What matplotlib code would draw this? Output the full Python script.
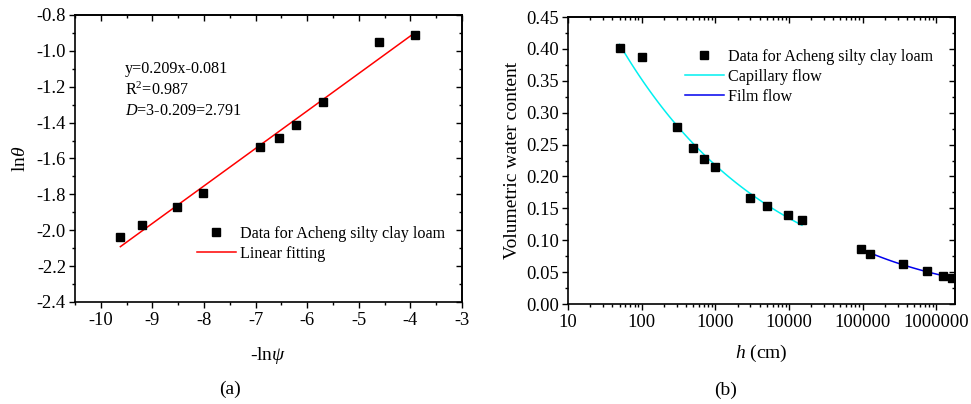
import numpy as np
import matplotlib
matplotlib.use("Agg")
import matplotlib.pyplot as plt
from matplotlib.ticker import MultipleLocator, LogLocator, NullFormatter, FixedLocator, FixedFormatter

plt.rcParams['font.family'] = ['Liberation Serif', 'DejaVu Serif']
plt.rcParams['mathtext.fontset'] = 'custom'
plt.rcParams['mathtext.rm'] = 'Liberation Serif'
plt.rcParams['mathtext.it'] = 'Liberation Serif:italic'
plt.rcParams['axes.unicode_minus'] = False

# panel (a): -ln(psi) vs ln(theta)
neg_ln_psi = [-9.62, -9.21, -8.52, -8.01, -6.91, -6.55, -6.21, -5.70, -4.61, -3.91]
ln_theta = [-2.036, -1.973, -1.871, -1.795, -1.537, -1.483, -1.411, -1.284, -0.949, -0.911]
slope, intercept = 0.209, -0.081

# panel (b): suction head vs volumetric water content
h_cap = [50, 100, 300, 500, 700, 1000, 3000, 5000, 9800, 15000]
theta_cap = [0.402, 0.387, 0.277, 0.244, 0.227, 0.215, 0.166, 0.154, 0.139, 0.131]
h_film = [95000, 127000, 355000, 740000, 1230000, 1660000]
theta_film = [0.086, 0.079, 0.063, 0.051, 0.044, 0.041]

fs_tick = 13.3
fs_lab = 14
fs_leg = 11.6

fig = plt.figure(figsize=(9.71, 4.04), dpi=100)
ax1 = fig.add_axes([0.0772, 0.2525, 0.3986, 0.7104])
ax2 = fig.add_axes([0.585, 0.2475, 0.3986, 0.7104])

# ---- (a)
ax1.plot(neg_ln_psi, ln_theta, 's', color='black', ms=5.3, label='Data for Acheng silty clay loam', zorder=3)
xf = np.linspace(min(neg_ln_psi), max(neg_ln_psi), 50)
ax1.plot(xf, slope * xf + intercept, color='#ff0000', lw=1.1, label='Linear fitting')
ax1.set_xlim(-10.5, -3)
ax1.set_ylim(-2.4, -0.8)
ax1.xaxis.set_major_locator(MultipleLocator(1))
ax1.xaxis.set_minor_locator(MultipleLocator(0.5))
ax1.yaxis.set_major_locator(MultipleLocator(0.2))
ax1.yaxis.set_minor_locator(MultipleLocator(0.1))
ax1.yaxis.set_major_formatter(plt.FuncFormatter(lambda v, p: f"{v:.1f}"))
ax1.set_xlabel(r'-ln$\psi$', fontsize=fs_lab, labelpad=11)
ax1.set_ylabel(r'ln$\theta$', fontsize=fs_lab, labelpad=5)
ax1.text(0.129, 0.812, 'y=0.209x-0.081', transform=ax1.transAxes, fontsize=fs_leg, va='center')
ax1.text(0.129, 0.739, r'R$^2$=0.987', transform=ax1.transAxes, fontsize=fs_leg, va='center')
ax1.text(0.129, 0.666, r'$D$=3-0.209=2.791', transform=ax1.transAxes, fontsize=fs_leg, va='center')
ax1.legend(loc='upper left', bbox_to_anchor=(0.315, 0.265), frameon=False, fontsize=fs_leg,
           handlelength=2.4, handletextpad=0.3, borderpad=0, borderaxespad=0, labelspacing=0.25)
ax1.text(0.40, -0.305, '(a)', transform=ax1.transAxes, ha='center', va='center', fontsize=fs_lab)

# ---- (b)
h_all = h_cap + h_film
theta_all = theta_cap + theta_film
ax2.plot(h_all, theta_all, 's', color='black', ms=5.3, label='Data for Acheng silty clay loam', zorder=3)
hc = np.logspace(np.log10(50), np.log10(15000), 100)
ax2.plot(hc, np.exp(intercept) * hc ** (-slope), color='#00f0f0', lw=1.1, label='Capillary flow')
p = np.polyfit(np.log(h_film), np.log(theta_film), 1)
hfm = np.logspace(np.log10(95000), np.log10(1.9e6), 100)
ax2.plot(hfm, np.exp(np.polyval(p, np.log(hfm))), color='#0000ee', lw=1.1, label='Film flow')
ax2.set_xscale('log')
ax2.set_xlim(10, 1.8e6)
ax2.set_ylim(0, 0.45)
ax2.xaxis.set_major_locator(FixedLocator([10, 100, 1000, 10000, 100000, 1000000]))
ax2.xaxis.set_major_formatter(FixedFormatter(['10', '100', '1000', '10000', '100000', '1000000']))
ax2.xaxis.set_minor_locator(LogLocator(base=10, subs=np.arange(2, 10), numticks=20))
ax2.xaxis.set_minor_formatter(NullFormatter())
ax2.yaxis.set_major_locator(MultipleLocator(0.05))
ax2.yaxis.set_minor_locator(MultipleLocator(0.025))
ax2.yaxis.set_major_formatter(plt.FuncFormatter(lambda v, p: f"{v:.2f}"))
ax2.set_xlabel(r'$h$ (cm)', fontsize=fs_lab, labelpad=8)
ax2.set_ylabel('Volumetric water content', fontsize=fs_lab, labelpad=4)
ax2.legend(loc='upper left', bbox_to_anchor=(0.302, 0.889), frameon=False, fontsize=fs_leg,
           handlelength=2.4, handletextpad=0.3, borderpad=0, borderaxespad=0, labelspacing=0.25)
ax2.text(0.406, -0.3, '(b)', transform=ax2.transAxes, ha='center', va='center', fontsize=fs_lab)

# left/bottom ticks point out, top/right ticks point in (Origin style)
for ax in (ax1, ax2):
    ax.tick_params(which='both', direction='out', labelsize=fs_tick, width=1.0)
    ax.tick_params(which='major', length=4.5)
    ax.tick_params(which='minor', length=2.5)
    ax.tick_params(axis='x', which='major', pad=3)
    ax.tick_params(axis='y', which='major', pad=2)
    for s in ax.spines.values():
        s.set_linewidth(1.2)
    top = ax.secondary_xaxis('top')
    right = ax.secondary_yaxis('right')
    if ax is ax2:
        top.set_xscale('log')
    top.xaxis.set_major_locator(ax.xaxis.get_major_locator())
    top.xaxis.set_minor_locator(ax.xaxis.get_minor_locator())
    right.yaxis.set_major_locator(ax.yaxis.get_major_locator())
    right.yaxis.set_minor_locator(ax.yaxis.get_minor_locator())
    for sec in (top, right):
        sec.tick_params(which='both', direction='in', labelleft=False, labelright=False,
                        labeltop=False, labelbottom=False, width=1.0)
        sec.tick_params(which='major', length=4.5)
        sec.tick_params(which='minor', length=2.5)
        for s in sec.spines.values():
            s.set_linewidth(1.2)

fig.savefig('out.png', dpi=100)
